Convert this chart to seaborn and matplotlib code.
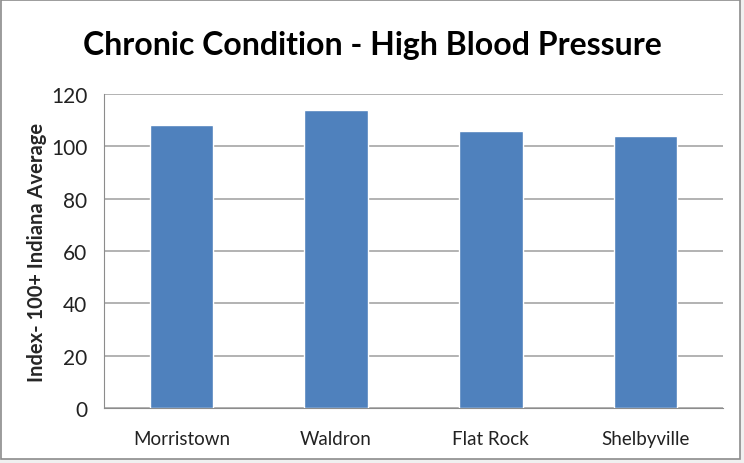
import matplotlib
matplotlib.use("Agg")
import matplotlib.pyplot as plt
from matplotlib.patches import Rectangle
import seaborn as sns
import pandas as pd

# ----------------------------
# data
# ----------------------------
towns = ["Morristown", "Waldron", "Flat Rock", "Shelbyville"]
index_values = [108, 114, 106, 104]
y_ticks = [0, 20, 40, 60, 80, 100, 120]

title = "Chronic Condition - High Blood Pressure"
y_label = "Index- 100+ Indiana Average"

df = pd.DataFrame({"Town": towns, "Index": index_values})

sns.set_style("white")
plt.rcParams['font.family'] = ['Lato', 'DejaVu Sans']

fig = plt.figure(figsize=(7.44, 4.64), dpi=100)
fig.patch.set_facecolor("#f0f0f0")

# white chart area with a thin grey frame
frame = Rectangle((1 / 744, 4 / 464), 739 / 744, 459 / 464, transform=fig.transFigure,
                  facecolor="white", edgecolor="#8c8c8c", linewidth=1.2, zorder=-10)
fig.patches.append(frame)

ax = fig.add_axes([104 / 744, 1 - 409 / 464, (723 - 104) / 744, (409 - 95) / 464])
ax.set_facecolor("none")

sns.barplot(data=df, x="Town", y="Index", color="#4F81BD", saturation=1,
            width=0.41, ax=ax, zorder=3)

ax.set_ylim(0, 120)
ax.set_yticks(y_ticks)
ax.set_xlim(-0.5, len(towns) - 0.5)
ax.yaxis.grid(True, color="#a6a6a6", linewidth=1.2, zorder=0)
ax.set_axisbelow(True)

for s in ["top", "right"]:
    ax.spines[s].set_visible(False)
ax.spines["left"].set_color("#8c8c8c")
ax.spines["bottom"].set_color("#8c8c8c")

# x ticks sit between categories
ax.set_xticks([i - 0.5 for i in range(len(towns) + 1)], minor=True)
ax.tick_params(axis="x", which="major", length=0, pad=16, labelsize=13.5, labelcolor="#222222")
ax.tick_params(axis="x", which="minor", length=6, color="#8c8c8c", direction="out")
ax.tick_params(axis="y", length=6, color="#8c8c8c", direction="out", pad=6,
               labelsize=15, labelcolor="#222222")

ax.set_xlabel("")
ax.set_ylabel(y_label, fontsize=14.5, fontweight="bold", labelpad=3)

fig.text(372 / 744, 1 - 45 / 464, title, ha="center", va="center",
         fontsize=23, fontweight="bold", color="black")

fig.savefig("out.png", dpi=100, facecolor=fig.get_facecolor())
